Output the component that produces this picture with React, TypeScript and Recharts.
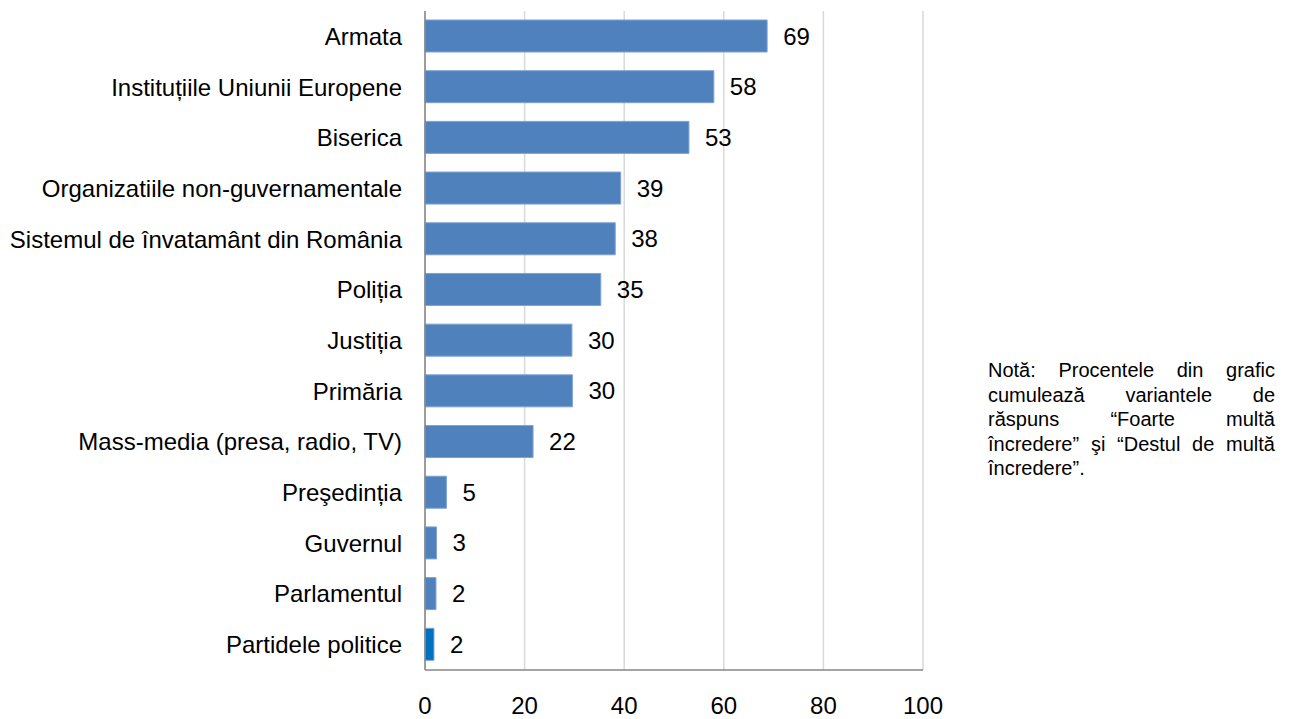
import React from "react";
import {
  BarChart,
  Bar,
  XAxis,
  YAxis,
  CartesianGrid,
  LabelList,
  Cell,
} from "recharts";

const categories = [
  "Armata",
  "Instituțiile Uniunii Europene",
  "Biserica",
  "Organizatiile non-guvernamentale",
  "Sistemul de învatamânt din România",
  "Poliția",
  "Justiția",
  "Primăria",
  "Mass-media (presa, radio, TV)",
  "Preşedinția",
  "Guvernul",
  "Parlamentul",
  "Partidele politice",
];

const values = [68.7, 58, 53, 39.3, 38.2, 35.3, 29.5, 29.6, 21.7, 4.3, 2.3, 2.2, 1.8];
const valueLabels = [69, 58, 53, 39, 38, 35, 30, 30, 22, 5, 3, 2, 2];
const xTicks = [0, 20, 40, 60, 80, 100];

const noteLines = [
  "Notă: Procentele din grafic",
  "cumulează variantele de",
  "răspuns “Foarte multă",
  "încredere” şi “Destul de multă",
  "încredere”.",
];

const data = categories.map((name, i) => ({
  name,
  value: values[i],
  label: valueLabels[i],
}));

const FONT = '"Liberation Sans", Arial, sans-serif';

export default function App() {
  return (
    <div style={{ position: "relative", width: 1274, height: 711, fontFamily: FONT }}>
      <BarChart
        width={1274}
        height={711}
        data={data}
        layout="vertical"
        margin={{ top: 3, right: 359, bottom: 9, left: 0 }}
      >
        <CartesianGrid horizontal={false} stroke="#D9D9D9" strokeWidth={1.5} />
        <XAxis
          type="number"
          domain={[0, 100]}
          ticks={xTicks}
          height={40}
          tickLine={false}
          tickSize={0}
          tickMargin={27}
          axisLine={{ stroke: "#868686", strokeWidth: 1.5 }}
          tick={{ fill: "#000", fontSize: 24, fontFamily: FONT }}
          interval={0}
        />
        <YAxis
          type="category"
          dataKey="name"
          width={417}
          tickLine={false}
          tickSize={0}
          tickMargin={23}
          interval={0}
          axisLine={{ stroke: "#868686", strokeWidth: 1.5 }}
          tick={{ fill: "#000", fontSize: 24, fontFamily: FONT }}
        />
        <Bar
          dataKey="value"
          barSize={32}
          fill="#4F81BD"
          stroke="#7EA3D2"
          strokeWidth={1}
          isAnimationActive={false}
        >
          {data.map((d, i) => (
            <Cell key={i} fill={i === data.length - 1 ? "#0070C0" : "#4F81BD"} />
          ))}
          <LabelList
            dataKey="label"
            position="right"
            offset={16}
            fill="#000"
            fontSize={24}
            fontFamily={FONT}
          />
        </Bar>
      </BarChart>
      <div
        style={{
          position: "absolute",
          left: 980,
          top: 350,
          width: 287,
          fontSize: 20,
          lineHeight: "24.5px",
          color: "#000",
          fontFamily: FONT,
        }}
      >
        {noteLines.map((l, i) => (
          <div
            key={i}
            style={{
              textAlign: "justify",
              textAlignLast: i === noteLines.length - 1 ? "left" : "justify",
              whiteSpace: "nowrap",
            }}
          >
            {l}
          </div>
        ))}
      </div>
    </div>
  );
}
